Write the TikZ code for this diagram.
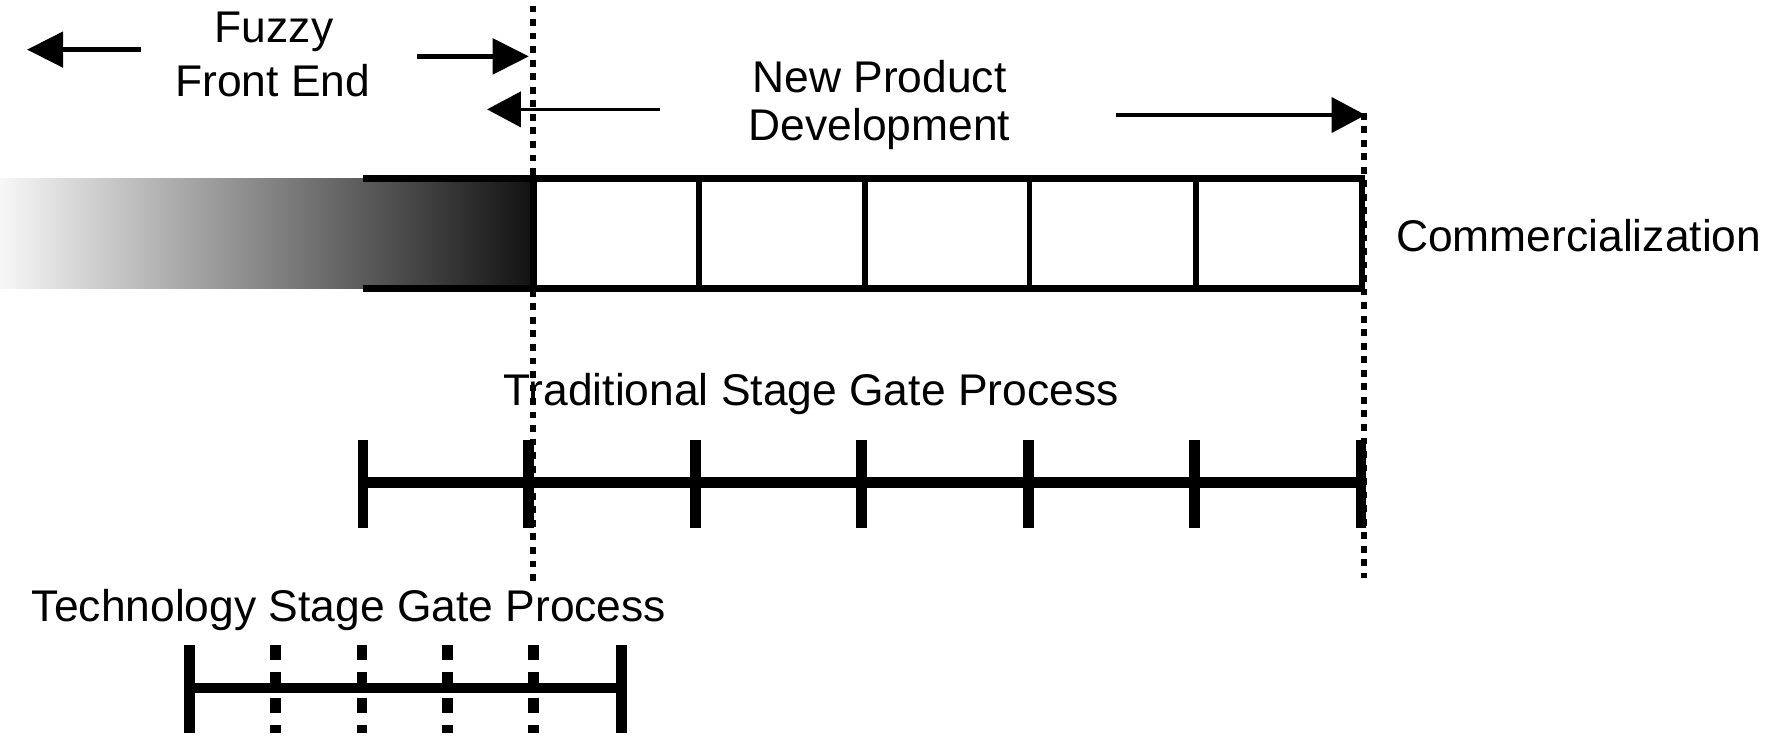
\documentclass[tikz,border=0pt]{standalone}
\usepackage{fontspec}
\setmainfont{Liberation Sans}
\usetikzlibrary{arrows.meta}
\begin{document}
\begin{tikzpicture}[x=0.025cm,y=-0.025cm,
  lbl/.style={font=\fontsize{28}{34}\selectfont, inner sep=0pt, anchor=base},
  lblw/.style={lbl, anchor=base west},
  arr/.style={line width=0.105cm, -{Triangle[length=0.8cm,width=0.78cm]}},
  thinarr/.style={line width=0.075cm, -{Triangle[length=0.75cm,width=0.78cm]}},
  boxline/.style={line width=0.15cm},
  divider/.style={line width=0.13cm},
  gatebar/.style={line width=0.23cm},
  gatetick/.style={line width=0.24cm},
  softtick/.style={line width=0.24cm, dash pattern=on 0.33cm off 0.26cm},
  milestone/.style={line width=0.13cm, dash pattern=on 0.15cm off 0.15cm}]
\useasboundingbox (0,0) rectangle (1568,652);

% fuzzy front end: fading bar
\shade[left color=white!97!black, right color=black!93] (0,158) rectangle (473,256);
\draw[boxline] (322,158) -- (473,158);
\draw[boxline] (322,256) -- (473,256);

% new product development stages
\draw[boxline] (473,158) rectangle (1208,256);
\foreach \x in {620,767,913,1061}
  \draw[divider] (\x,158) -- (\x,256);

% milestone markers
\coordinate (ms1top) at (473,5);
\coordinate (ms1bot) at (473,515);
\coordinate (ms2top) at (1210,100);
\coordinate (ms2bot) at (1210,513);
\draw[milestone] (ms1top) -- (ms1bot);
\draw[milestone] (ms2top) -- (ms2bot);

% headings
\node[lbl] (fuzzy) at (243,38) {Fuzzy};
\node[lbl] (ffe) at (242,86) {Front End};
\node[lbl] (npd1) at (780,82) {New Product};
\node[lbl] (npd2) at (780,125) {Development};
\node[lblw] (comm) at (1238,223) {Commercialization};
\node[lblw] (trad) at (446,360) {Traditional Stage Gate Process};
\node[lblw] (tech) at (28,551) {Technology Stage Gate Process};

% span arrows
\coordinate (fl0) at (125,44);
\coordinate (fl1) at (24,44);
\coordinate (fr0) at (370,50);
\coordinate (fr1) at (469,50);
\coordinate (nl0) at (585,97);
\coordinate (nl1) at (432,97);
\coordinate (nr0) at (990,102);
\coordinate (nr1) at (1211,102);
\draw[arr] (fl0) -- (fl1);
\draw[arr] (fr0) -- (fr1);
\draw[thinarr] (nl0) -- (nl1);
\draw[thinarr] (nr0) -- (nr1);

% traditional stage gate process
\draw[gatebar] (322,428) -- (1208,428);
\foreach \x in {322,469,617,764,912,1059,1207}
  \draw[gatetick] (\x,390) -- (\x,468);

% technology stage gate process
\draw[gatebar] (168,610) -- (553,610);
\foreach \x in {168,551}
  \draw[gatetick] (\x,572) -- (\x,650);
\foreach \x in {244,321,397,473}
  \draw[softtick] (\x,572) -- (\x,650);
\end{tikzpicture}
\end{document}
